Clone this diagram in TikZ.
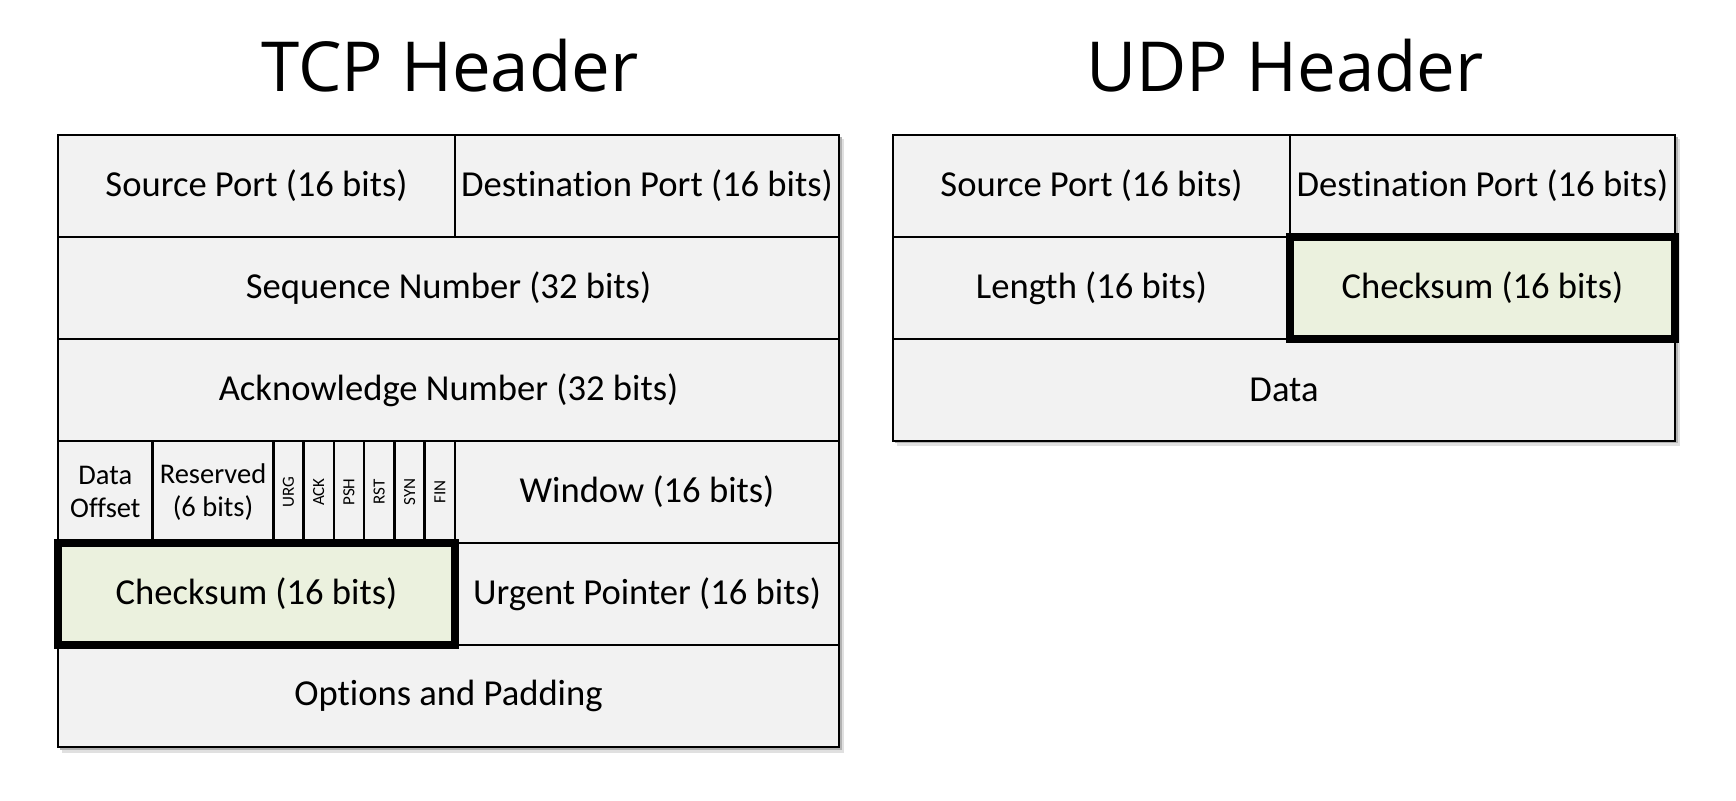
\documentclass[tikz,border=0pt]{standalone}
\usepackage{fontspec}
\setmainfont{Carlito}[Ligatures=NoCommon]
\newfontfamily\titlefont{Open Sans}
\usepackage{xcolor}
\usetikzlibrary{positioning}

\definecolor{cellgray}{HTML}{F2F2F2}
\definecolor{chkgreen}{HTML}{EBF1DE}

\begin{document}
\begin{tikzpicture}[
  x=1pt, y=-1pt,
  cell/.style={draw, line width=2.6pt, fill=cellgray, anchor=north west, inner sep=0pt, outer sep=0pt,
    minimum height=102pt, font=\fontsize{36.6}{40}\selectfont},
  half/.style={cell, minimum width=397pt},
  rhalf/.style={cell, minimum width=384pt},
  full/.style={cell, minimum width=781pt},
  small/.style={cell, align=center, font=\fontsize{28.5}{33}\selectfont},
  flag/.style={cell, minimum width=30.28pt, font=\fontsize{17}{18}\selectfont},
  chk/.style={fill=chkgreen},
  hl/.style={draw, line width=8pt, line join=miter},
  title/.style={font=\titlefont\fontsize{69}{80}\selectfont, anchor=base}
]
\fill[white] (0,0) rectangle (1736,800);
\useasboundingbox (0,0) rectangle (1736,800);

% shadows
\fill[black!12] (62,139) rectangle (844,753);
\fill[black!30] (60,137) rectangle (842,750);
\fill[black!12] (897,139) rectangle (1680,446);
\fill[black!30] (895,137) rectangle (1678,443);

% TCP header
\node[title] (tcptitle) at (450,92) {TCP Header};
\node[half] (tsrc) at (58,135) {Source Port (16 bits)};
\node[rhalf, right=0pt of tsrc.north east, anchor=north west] (tdst) {Destination Port (16 bits)};
\node[full, below=0pt of tsrc.south west, anchor=north west] (tseq) {Sequence Number (32 bits)};
\node[full, below=0pt of tseq.south west, anchor=north west] (tack) {Acknowledge Number (32 bits)};
\node[small, minimum width=94.7pt, below=0pt of tack.south west, anchor=north west] (toff) {Data\\Offset};
\node[small, minimum width=120.6pt, right=0pt of toff.north east, anchor=north west] (tres) {Reserved\\(6 bits)};
\foreach \f [remember=\f as \prev (initially tres)] in {URG,ACK,PSH,RST,SYN,FIN}
  \node[flag, right=0pt of \prev.north east, anchor=north west] (\f) {\rotatebox{90}{\f}};
\node[rhalf, right=0pt of FIN.north east, anchor=north west] (twin) {Window (16 bits)};
\node[half, chk, below=0pt of toff.south west, anchor=north west] (tchk) {Checksum (16 bits)};
\node[rhalf, right=0pt of tchk.north east, anchor=north west] (turg) {Urgent Pointer (16 bits)};
\node[full, below=0pt of tchk.south west, anchor=north west] (topt) {Options and Padding};
\draw[hl] (tchk.north west) rectangle (tchk.south east);

% UDP header
\node[title] (udptitle) at (1285,92) {UDP Header};
\node[half] (usrc) at (893,135) {Source Port (16 bits)};
\node[cell, minimum width=385pt, right=0pt of usrc.north east, anchor=north west] (udst) {Destination Port (16 bits)};
\node[half, below=0pt of usrc.south west, anchor=north west] (ulen) {Length (16 bits)};
\node[cell, chk, minimum width=385pt, right=0pt of ulen.north east, anchor=north west] (uchk) {Checksum (16 bits)};
\node[cell, minimum width=782pt, below=0pt of ulen.south west, anchor=north west] (udata) {Data};
\draw[hl] (uchk.north west) rectangle (uchk.south east);
\end{tikzpicture}
\end{document}
